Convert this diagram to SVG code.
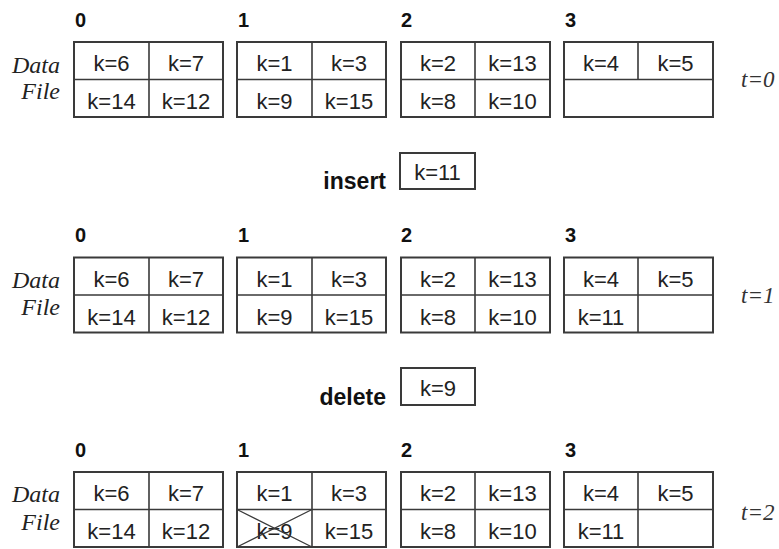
<svg xmlns="http://www.w3.org/2000/svg" width="779" height="549" viewBox="0 0 779 549">
<style>
.bg{fill:#ffffff}
.box{fill:#ffffff;stroke:#3a3a3a;stroke-width:2}
.div{stroke:#3a3a3a;stroke-width:1.6;fill:none}
.cell{font-family:"Liberation Sans",Arial,sans-serif;font-size:22px;fill:#222;text-anchor:middle}
.idx{font-family:"Liberation Sans",Arial,sans-serif;font-size:20px;font-weight:bold;fill:#111}
.op{font-family:"Liberation Sans",Arial,sans-serif;font-size:23px;font-weight:bold;fill:#111;text-anchor:end}
.side{font-family:"Liberation Serif","Times New Roman",serif;font-style:italic;font-size:24px;fill:#222;text-anchor:end}
.tl{font-family:"Liberation Serif","Times New Roman",serif;font-style:italic;font-size:23px;fill:#333}
.xcross{stroke:#3a3a3a;stroke-width:1.3;fill:none}
</style>
<rect class="bg" x="0" y="0" width="779" height="549"/>

<!-- ===== t=0 ===== -->
<g id="state-t0">
  <text class="side" x="60" y="73">Data</text>
  <text class="side" x="60" y="99">File</text>
  <text class="tl" x="741" y="87">t=0</text>
  <g id="t0-bucket0">
    <text class="idx" x="75" y="27">0</text>
    <rect class="box" x="74" y="42" width="149" height="75"/>
    <path class="div" d="M74 79.5H223M149 42V117"/>
    <text class="cell" x="111.5" y="71">k=6</text><text class="cell" x="186" y="71">k=7</text>
    <text class="cell" x="111.5" y="109">k=14</text><text class="cell" x="186" y="109">k=12</text>
  </g>
  <g id="t0-bucket1">
    <text class="idx" x="238" y="27">1</text>
    <rect class="box" x="237" y="42" width="149" height="75"/>
    <path class="div" d="M237 79.5H386M312 42V117"/>
    <text class="cell" x="274.5" y="71">k=1</text><text class="cell" x="349" y="71">k=3</text>
    <text class="cell" x="274.5" y="109">k=9</text><text class="cell" x="349" y="109">k=15</text>
  </g>
  <g id="t0-bucket2">
    <text class="idx" x="401" y="27">2</text>
    <rect class="box" x="401" y="42" width="149" height="75"/>
    <path class="div" d="M401 79.5H550M475 42V117"/>
    <text class="cell" x="438" y="71">k=2</text><text class="cell" x="512.5" y="71">k=13</text>
    <text class="cell" x="438" y="109">k=8</text><text class="cell" x="512.5" y="109">k=10</text>
  </g>
  <g id="t0-bucket3">
    <text class="idx" x="565" y="27">3</text>
    <rect class="box" x="564" y="42" width="149" height="75"/>
    <path class="div" d="M564 79.5H713M638 42V79.5"/>
    <text class="cell" x="601" y="71">k=4</text><text class="cell" x="675.5" y="71">k=5</text>
  </g>
</g>

<g id="op-insert">
  <text class="op" x="386" y="189">insert</text>
  <rect class="box" x="400" y="153" width="75" height="36"/>
  <text class="cell" x="437.5" y="180">k=11</text>
</g>

<!-- ===== t=1 ===== -->
<g id="state-t1">
  <text class="side" x="60" y="288">Data</text>
  <text class="side" x="60" y="315">File</text>
  <text class="tl" x="741" y="303">t=1</text>
  <g id="t1-bucket0">
    <text class="idx" x="75" y="242">0</text>
    <rect class="box" x="74" y="257.5" width="149" height="75"/>
    <path class="div" d="M74 295H223M149 257.5V332.5"/>
    <text class="cell" x="111.5" y="286.5">k=6</text><text class="cell" x="186" y="286.5">k=7</text>
    <text class="cell" x="111.5" y="324.5">k=14</text><text class="cell" x="186" y="324.5">k=12</text>
  </g>
  <g id="t1-bucket1">
    <text class="idx" x="238" y="242">1</text>
    <rect class="box" x="237" y="257.5" width="149" height="75"/>
    <path class="div" d="M237 295H386M312 257.5V332.5"/>
    <text class="cell" x="274.5" y="286.5">k=1</text><text class="cell" x="349" y="286.5">k=3</text>
    <text class="cell" x="274.5" y="324.5">k=9</text><text class="cell" x="349" y="324.5">k=15</text>
  </g>
  <g id="t1-bucket2">
    <text class="idx" x="401" y="242">2</text>
    <rect class="box" x="401" y="257.5" width="149" height="75"/>
    <path class="div" d="M401 295H550M475 257.5V332.5"/>
    <text class="cell" x="438" y="286.5">k=2</text><text class="cell" x="512.5" y="286.5">k=13</text>
    <text class="cell" x="438" y="324.5">k=8</text><text class="cell" x="512.5" y="324.5">k=10</text>
  </g>
  <g id="t1-bucket3">
    <text class="idx" x="565" y="242">3</text>
    <rect class="box" x="564" y="257.5" width="149" height="75"/>
    <path class="div" d="M564 295H713M638 257.5V332.5"/>
    <text class="cell" x="601" y="286.5">k=4</text><text class="cell" x="675.5" y="286.5">k=5</text>
    <text class="cell" x="601" y="324.5">k=11</text>
  </g>
</g>

<g id="op-delete">
  <text class="op" x="386" y="405">delete</text>
  <rect class="box" x="401" y="368" width="74" height="37"/>
  <text class="cell" x="438" y="396">k=9</text>
</g>

<!-- ===== t=2 ===== -->
<g id="state-t2">
  <text class="side" x="60" y="502">Data</text>
  <text class="side" x="60" y="530">File</text>
  <text class="tl" x="741" y="520">t=2</text>
  <g id="t2-bucket0">
    <text class="idx" x="75" y="457">0</text>
    <rect class="box" x="74" y="472" width="149" height="75"/>
    <path class="div" d="M74 509.5H223M149 472V547"/>
    <text class="cell" x="111.5" y="501">k=6</text><text class="cell" x="186" y="501">k=7</text>
    <text class="cell" x="111.5" y="539">k=14</text><text class="cell" x="186" y="539">k=12</text>
  </g>
  <g id="t2-bucket1">
    <text class="idx" x="238" y="457">1</text>
    <rect class="box" x="237" y="472" width="149" height="75"/>
    <path class="div" d="M237 509.5H386M312 472V547"/>
    <text class="cell" x="274.5" y="501">k=1</text><text class="cell" x="349" y="501">k=3</text>
    <text class="cell" x="274.5" y="539">k=9</text><text class="cell" x="349" y="539">k=15</text>
    <path class="xcross" d="M237 509.5L312 547M237 547L312 509.5"/>
  </g>
  <g id="t2-bucket2">
    <text class="idx" x="401" y="457">2</text>
    <rect class="box" x="401" y="472" width="149" height="75"/>
    <path class="div" d="M401 509.5H550M475 472V547"/>
    <text class="cell" x="438" y="501">k=2</text><text class="cell" x="512.5" y="501">k=13</text>
    <text class="cell" x="438" y="539">k=8</text><text class="cell" x="512.5" y="539">k=10</text>
  </g>
  <g id="t2-bucket3">
    <text class="idx" x="565" y="457">3</text>
    <rect class="box" x="564" y="472" width="149" height="75"/>
    <path class="div" d="M564 509.5H713M638 472V547"/>
    <text class="cell" x="601" y="501">k=4</text><text class="cell" x="675.5" y="501">k=5</text>
    <text class="cell" x="601" y="539">k=11</text>
  </g>
</g>

<g id="connectors"/>
</svg>
